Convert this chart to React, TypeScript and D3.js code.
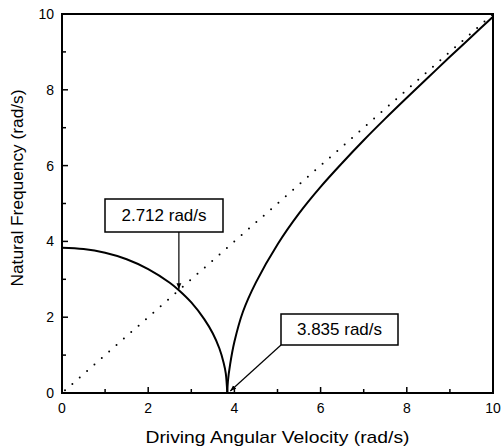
import React from 'react';
import * as d3 from 'd3';

// ветвь ниже резонанса
const lowX = [0, 0.5, 1, 1.5, 2, 2.5, 2.712, 3, 3.3, 3.5, 3.65, 3.75, 3.8, 3.835];
const lowY = [3.835, 3.8, 3.7, 3.53, 3.27, 2.91, 2.712, 2.39, 1.95, 1.57, 1.18, 0.8, 0.52, 0];

// ветвь выше резонанса
const highX = [3.835, 3.85, 3.9, 4.0, 4.2, 4.5, 5.0, 5.5, 6.0, 6.5, 7.0, 7.5, 8.0, 8.5, 9.0, 9.5, 10];
const highY = [0, 0.32, 0.75, 1.35, 2.15, 2.92, 3.92, 4.74, 5.44, 6.07, 6.67, 7.24, 7.79, 8.33, 8.87, 9.4, 9.93];

// линия ω = ωn
const refX = [0, 10];
const refY = [0, 10];

const xTicks = [0, 2, 4, 6, 8, 10];
const yTicks = [0, 2, 4, 6, 8, 10];
const minorTicks = [1, 3, 5, 7, 9];

const notes = [
  { label: '2.712 rad/s', x: 2.712, y: 2.712 },
  { label: '3.835 rad/s', x: 3.835, y: 0 },
];

const W = 504;
const H = 448;
const m = { left: 62, right: 11, top: 14, bottom: 55 };
const font = '"Liberation Sans", Arial, sans-serif';

export default function App() {
  const x = d3.scaleLinear().domain([0, 10]).range([m.left, W - m.right]);
  const y = d3.scaleLinear().domain([0, 10]).range([H - m.bottom, m.top]);

  const line = d3.line<[number, number]>()
    .x(d => x(d[0]))
    .y(d => y(d[1]))
    .curve(d3.curveCatmullRom.alpha(0.5));

  const low = lowX.map((v, i) => [v, lowY[i]] as [number, number]);
  const high = highX.map((v, i) => [v, highY[i]] as [number, number]);
  const ref = refX.map((v, i) => [v, refY[i]] as [number, number]);

  const x0 = x(0), x1 = x(10), y0 = y(0), y1 = y(10);

  // коробки подписей
  const box1 = { x: 105, y: 199, w: 118, h: 33 };
  const box2 = { x: 281, y: 314, w: 117, h: 31 };
  const p1 = [x(notes[0].x), y(notes[0].y)];
  const p2 = [x(notes[1].x) + 3, y(notes[1].y) - 2];

  return (
    <svg width={W} height={H} style={{ position: 'absolute', left: 0, top: 0 }} fontFamily={font}>
      <defs>
        <marker id="ah" viewBox="0 0 10 10" refX="10" refY="5" markerWidth="5" markerHeight="5" orient="auto">
          <path d="M0,1 L10,5 L0,9 z" fill="#000" />
        </marker>
      </defs>
      <rect width={W} height={H} fill="#fff" />

      <path d={line(ref) || ''} fill="none" stroke="#000" strokeWidth={2}
        strokeDasharray="0 9.8" strokeDashoffset={-4} strokeLinecap="round" />
      <path d={line(low) || ''} fill="none" stroke="#000" strokeWidth={2} />
      <path d={line(high) || ''} fill="none" stroke="#000" strokeWidth={2} />

      {/* рамка */}
      <rect x={x0} y={y1} width={x1 - x0} height={y0 - y1} fill="none" stroke="#000" strokeWidth={2} />

      {xTicks.map(t => (
        <g key={'x' + t}>
          <line x1={x(t)} x2={x(t)} y1={y0} y2={y0 - 6} stroke="#000" strokeWidth={1.5} />
          <text x={x(t)} y={y0 + 20} textAnchor="middle" fontSize={14}>{t}</text>
        </g>
      ))}
      {minorTicks.map(t => (
        <line key={'xm' + t} x1={x(t)} x2={x(t)} y1={y0} y2={y0 - 4} stroke="#000" strokeWidth={1.5} />
      ))}
      {yTicks.map(t => (
        <g key={'y' + t}>
          <line x1={x0} x2={x0 + 6} y1={y(t)} y2={y(t)} stroke="#000" strokeWidth={1.5} />
          <text x={x0 - 8} y={y(t) + 5} textAnchor="end" fontSize={14}>{t}</text>
        </g>
      ))}
      {minorTicks.map(t => (
        <line key={'ym' + t} x1={x0} x2={x0 + 4} y1={y(t)} y2={y(t)} stroke="#000" strokeWidth={1.5} />
      ))}

      <text x={(x0 + x1) / 2} y={443} textAnchor="middle" fontSize={17}
        textLength={264} lengthAdjust="spacingAndGlyphs">Driving Angular Velocity (rad/s)</text>
      <text transform={`translate(23,188) rotate(-90)`} textAnchor="middle" fontSize={17}
        textLength={197} lengthAdjust="spacingAndGlyphs">
        Natural Frequency (rad/s)
      </text>

      {/* подписи с выносками */}
      <line x1={p1[0]} y1={box1.y + box1.h} x2={p1[0]} y2={p1[1] - 1} stroke="#000" strokeWidth={1.2} markerEnd="url(#ah)" />
      <rect x={box1.x} y={box1.y} width={box1.w} height={box1.h} fill="#fff" stroke="#000" strokeWidth={1.5} />
      <text x={box1.x + box1.w / 2} y={box1.y + 22} textAnchor="middle" fontSize={17}>{notes[0].label}</text>

      <line x1={box2.x} y1={box2.y + box2.h} x2={p2[0]} y2={p2[1]} stroke="#000" strokeWidth={1.2} markerEnd="url(#ah)" />
      <rect x={box2.x} y={box2.y} width={box2.w} height={box2.h} fill="#fff" stroke="#000" strokeWidth={1.5} />
      <text x={box2.x + box2.w / 2} y={box2.y + 21} textAnchor="middle" fontSize={17}>{notes[1].label}</text>
    </svg>
  );
}
